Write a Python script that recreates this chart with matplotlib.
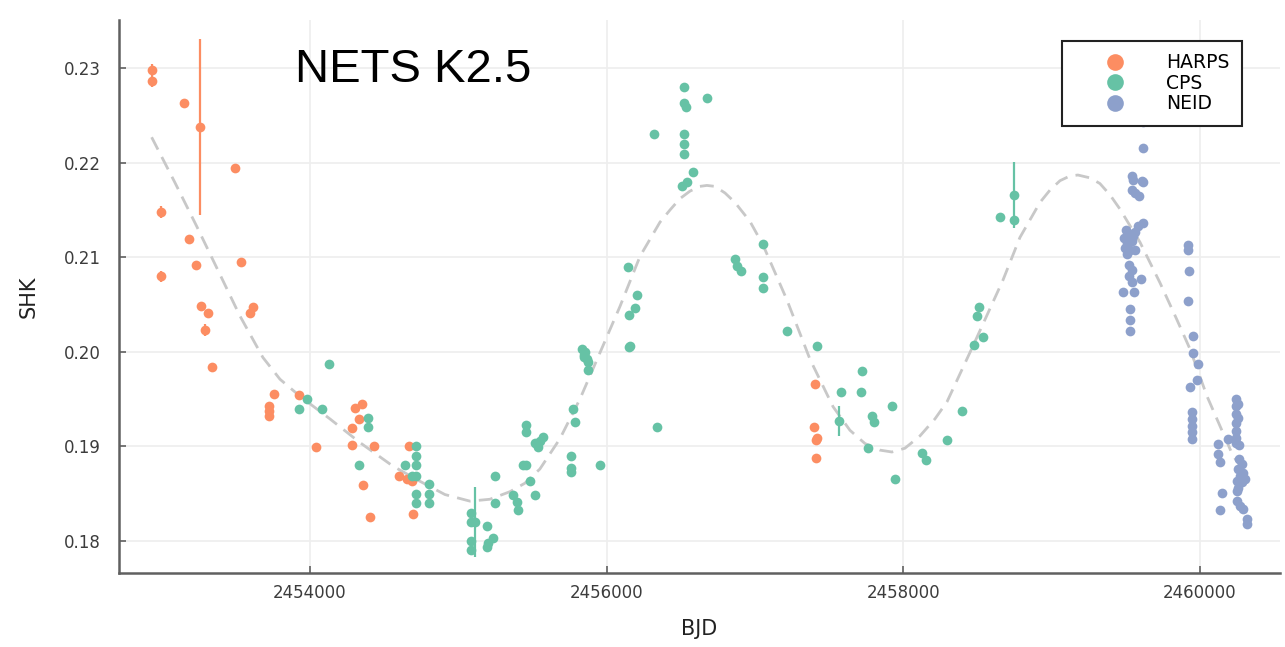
import matplotlib
matplotlib.use("Agg")
import matplotlib.pyplot as plt
from matplotlib.lines import Line2D

# HARPS (BJD, SHK, err)
harps_bjd = [2452937, 2452933, 2453153, 2453259, 2453494, 2452994, 2453184, 2453234,
             2453535, 2452994, 2453265, 2453314, 2453292, 2453341, 2453596, 2453618,
             2453759, 2453726, 2453726, 2453726, 2453928, 2454040, 2454285, 2454303,
             2454348, 2454332, 2454285, 2454433, 2454359, 2454404, 2454665, 2454602,
             2454652, 2454686, 2454696, 2457404, 2457397, 2457416, 2457411, 2457411]
harps_shk = [0.2298, 0.2286, 0.2263, 0.2238, 0.2194, 0.2148, 0.2119, 0.2092,
             0.2095, 0.2080, 0.2048, 0.2041, 0.2023, 0.1984, 0.2041, 0.2047,
             0.1955, 0.1943, 0.1937, 0.1932, 0.1954, 0.1899, 0.1919, 0.1941,
             0.1945, 0.1929, 0.1901, 0.1900, 0.1859, 0.1825, 0.1900, 0.1869,
             0.1865, 0.1863, 0.1828, 0.1966, 0.1920, 0.1909, 0.1907, 0.1888]
harps_err = [0.0006, 0.0006, 0.0004, 0.0093, 0.0005, 0.0006, 0.0004, 0.0004,
             0.0003, 0.0006, 0.0004, 0.0004, 0.0006, 0.0003, 0.0003, 0.0003,
             0.0003, 0.0003, 0.0003, 0.0003, 0.0003, 0.0002, 0.0002, 0.0002,
             0.0002, 0.0002, 0.0002, 0.0002, 0.0002, 0.0002, 0.0002, 0.0002,
             0.0002, 0.0002, 0.0002, 0.0002, 0.0002, 0.0002, 0.0002, 0.0002]

# CPS
cps_bjd = [2454130, 2453928, 2453978, 2454079, 2454393, 2454393, 2454330, 2454640,
           2454715, 2454715, 2454715, 2454715, 2454686, 2454804, 2454804, 2454804,
           2454715, 2454715, 2455083, 2455083, 2455083, 2455083, 2455112, 2455195,
           2455232, 2455202, 2455191, 2455247, 2455247, 2455366, 2455393, 2455404,
           2455483, 2455517, 2455438, 2455456, 2455456, 2455456, 2455517, 2455539,
           2455573, 2455550, 2455757, 2455757, 2455757, 2455775, 2455786, 2455955,
           2455832, 2455845, 2455855, 2455866, 2455877, 2455877, 2455850, 2456146,
           2456202, 2456191, 2456150, 2456150, 2456160, 2456341, 2456319, 2456521,
           2456521, 2456535, 2456674, 2456521, 2456521, 2456521, 2456584, 2456543,
           2456505, 2456865, 2456880, 2456903, 2457056, 2457056, 2457056, 2457218,
           2457421, 2457578, 2457568, 2457719, 2457714, 2457786, 2457802, 2457759,
           2457925, 2457943, 2458123, 2458152, 2458292, 2458393, 2458476, 2458535,
           2458494, 2458512, 2458651, 2458746, 2458746]
cps_shk = [0.1987, 0.1940, 0.1950, 0.1940, 0.1930, 0.1920, 0.1880, 0.1880,
           0.1900, 0.1890, 0.1880, 0.1869, 0.1869, 0.1860, 0.1850, 0.1840,
           0.1850, 0.1840, 0.1830, 0.1820, 0.1800, 0.1790, 0.1820, 0.1816,
           0.1803, 0.1798, 0.1793, 0.1869, 0.1840, 0.1849, 0.1841, 0.1833,
           0.1863, 0.1849, 0.1880, 0.1880, 0.1923, 0.1915, 0.1904, 0.1899,
           0.1910, 0.1906, 0.1890, 0.1877, 0.1873, 0.1940, 0.1926, 0.1880,
           0.2003, 0.1997, 0.2000, 0.1992, 0.1989, 0.1981, 0.1995, 0.2090,
           0.2060, 0.2046, 0.2039, 0.2005, 0.2006, 0.1920, 0.2230, 0.2280,
           0.2263, 0.2259, 0.2268, 0.2230, 0.2220, 0.2209, 0.2190, 0.2180,
           0.2175, 0.2098, 0.2091, 0.2085, 0.2114, 0.2079, 0.2067, 0.2022,
           0.2006, 0.1958, 0.1927, 0.1980, 0.1957, 0.1932, 0.1926, 0.1898,
           0.1943, 0.1865, 0.1893, 0.1886, 0.1907, 0.1937, 0.2007, 0.2016,
           0.2038, 0.2047, 0.2143, 0.2166, 0.2139]
cps_err = [0.0] * len(cps_bjd)
cps_err[22] = 0.0037
cps_err[82] = 0.0016
cps_err[99] = 0.0035

# NEID
neid_bjd = [2459617, 2459617, 2459539, 2459550, 2459607, 2459617, 2459539, 2459561,
            2459590, 2459613, 2459584, 2459561, 2459501, 2459516, 2459487, 2459550,
            2459505, 2459539, 2459494, 2459528, 2459561, 2459505, 2459523, 2459539,
            2459523, 2459539, 2459600, 2459478, 2459555, 2459528, 2459528, 2459528,
            2459921, 2459921, 2459927, 2459921, 2459954, 2459954, 2459988, 2459977,
            2459932, 2459943, 2459943, 2459943, 2459943, 2459943, 2460242, 2460242,
            2460242, 2460242, 2460242, 2460242, 2460242, 2460258, 2460258, 2460190,
            2460264, 2460123, 2460123, 2460134, 2460264, 2460281, 2460258, 2460291,
            2460269, 2460303, 2460247, 2460281, 2460258, 2460247, 2460146, 2460134,
            2460247, 2460269, 2460291, 2460314, 2460314]
neid_shk = [0.2243, 0.2216, 0.2186, 0.2182, 0.2181, 0.2180, 0.2171, 0.2168,
            0.2165, 0.2136, 0.2133, 0.2127, 0.2129, 0.2126, 0.2120, 0.2122,
            0.2115, 0.2117, 0.2110, 0.2108, 0.2108, 0.2103, 0.2092, 0.2087,
            0.2080, 0.2074, 0.2077, 0.2063, 0.2063, 0.2045, 0.2034, 0.2022,
            0.2113, 0.2108, 0.2085, 0.2054, 0.2017, 0.1999, 0.1987, 0.1970,
            0.1963, 0.1936, 0.1929, 0.1922, 0.1915, 0.1908, 0.1950, 0.1943,
            0.1934, 0.1925, 0.1916, 0.1909, 0.1904, 0.1945, 0.1930, 0.1908,
            0.1901, 0.1902, 0.1892, 0.1883, 0.1887, 0.1881, 0.1876, 0.1872,
            0.1869, 0.1865, 0.1863, 0.1862, 0.1856, 0.1853, 0.1851, 0.1833,
            0.1842, 0.1837, 0.1834, 0.1823, 0.1818]

# model curve
model_bjd = [2452933, 2453090, 2453236, 2453393, 2453528, 2453683, 2453798, 2453933,
             2454135, 2454337, 2454560, 2454742, 2454910, 2455079, 2455213, 2455348,
             2455449, 2455550, 2455685, 2455820, 2455955, 2456090, 2456225, 2456359,
             2456427, 2456494, 2456562, 2456629, 2456676, 2456730, 2456798, 2456865,
             2456966, 2457054, 2457215, 2457371, 2457526, 2457640, 2457741, 2457842,
             2457923, 2458011, 2458112, 2458213, 2458294, 2458469, 2458672, 2458786,
             2458921, 2458988, 2459056, 2459123, 2459177, 2459258, 2459325, 2459393,
             2459460, 2459595, 2459730, 2459844, 2459932, 2460047, 2460222, 2460289]
model_shk = [0.2227, 0.2179, 0.2133, 0.2082, 0.2038, 0.1994, 0.1971, 0.1953,
             0.1929, 0.1904, 0.1879, 0.1863, 0.1849, 0.1842, 0.1844, 0.1852,
             0.1861, 0.1876, 0.1908, 0.1950, 0.1999, 0.2048, 0.2101, 0.2137,
             0.2150, 0.2162, 0.2170, 0.2175, 0.2176, 0.2175, 0.2168, 0.2158,
             0.2138, 0.2113, 0.2055, 0.1992, 0.1942, 0.1917, 0.1903, 0.1896,
             0.1894, 0.1898, 0.1911, 0.1929, 0.1947, 0.2006, 0.2076, 0.2121,
             0.2158, 0.2171, 0.2181, 0.2186, 0.2187, 0.2184, 0.2178, 0.2166,
             0.2151, 0.2116, 0.2073, 0.2034, 0.2003, 0.1953, 0.1890, 0.1876]

c_harps = '#fc8d62'
c_cps = '#66c2a5'
c_neid = '#8da0cb'
axcol = '#606060'

fig = plt.figure(figsize=(12.85, 6.47), dpi=100)
ax = fig.add_axes([119/1285, 1 - 573/647, 1161/1285, 553/647])

ax.plot(model_bjd, model_shk, color='#c8c8c8', lw=2, ls=(0, (5, 3)), zorder=1)

for x, y, e, c in [(harps_bjd, harps_shk, harps_err, c_harps),
                   (cps_bjd, cps_shk, cps_err, c_cps),
                   (neid_bjd, neid_shk, None, c_neid)]:
    ax.errorbar(x, y, yerr=e, fmt='o', color=c, ms=7, mew=0,
                elinewidth=1.6, capsize=0, zorder=3)

ax.set_xlim(2452713, 2460539)
ax.set_ylim(0.1766, 0.2351)
ax.set_xticks([2454000, 2456000, 2458000, 2460000])
ax.set_yticks([0.18, 0.19, 0.20, 0.21, 0.22, 0.23])
ax.set_xticklabels(['2454000', '2456000', '2458000', '2460000'])
ax.set_yticklabels(['0.18', '0.19', '0.20', '0.21', '0.22', '0.23'])

ax.grid(True, color='#eeeeee', lw=1.2)
ax.set_axisbelow(True)
for s in ['top', 'right']:
    ax.spines[s].set_visible(False)
for s in ['left', 'bottom']:
    ax.spines[s].set_color(axcol)
    ax.spines[s].set_linewidth(1.8)
ax.tick_params(direction='in', length=5, width=1.2, color=axcol,
               labelsize=12, labelcolor='#3c3c3c')
ax.tick_params(axis='y', pad=13)
ax.tick_params(axis='x', pad=8)

ax.set_xlabel('BJD', fontsize=15, color='#222222', labelpad=12)
ax.set_ylabel('SHK', fontsize=15, color='#222222', labelpad=18)

ax.text(0.1516, 0.91, 'NETS K2.5', transform=ax.transAxes, fontsize=34,
        family='Liberation Sans', va='center', ha='left', color='black')

handles = [Line2D([], [], ls='none', marker='o', ms=12, mew=0, color=c)
           for c in [c_harps, c_cps, c_neid]]
leg = ax.legend(handles, ['HARPS', 'CPS', 'NEID'], loc='upper right',
                bbox_to_anchor=(0.967, 0.962), fontsize=13.5, frameon=True,
                fancybox=False, edgecolor='#222222', framealpha=1,
                handletextpad=0.5, labelspacing=0.08, borderpad=0.66,
                borderaxespad=0, handlelength=4.4)
leg.get_frame().set_linewidth(1.5)
leg.set_zorder(5)

fig.savefig('out.png', dpi=100, facecolor='white')
